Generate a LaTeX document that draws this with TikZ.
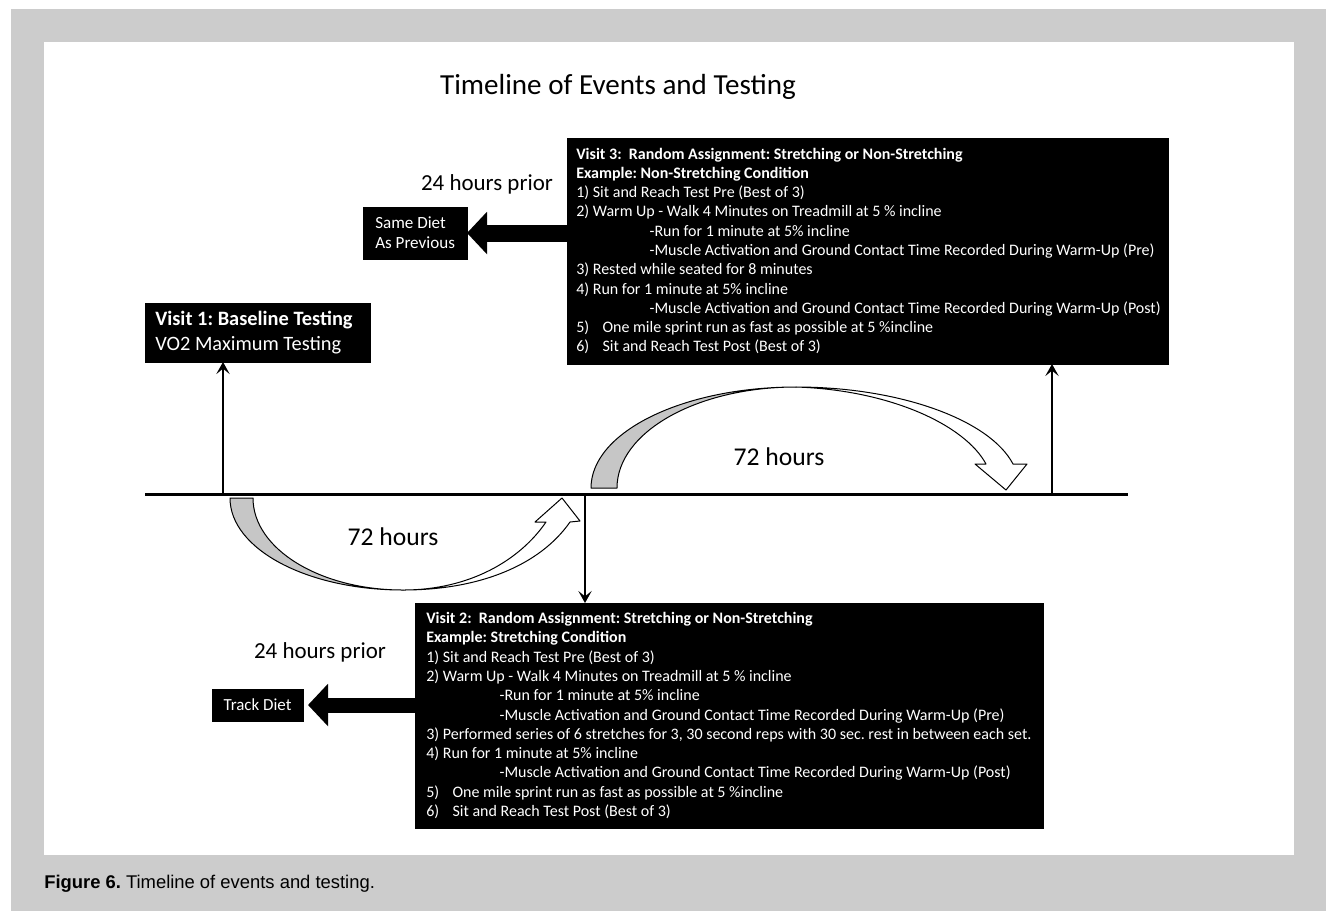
\documentclass[tikz,border=0pt]{standalone}
\usepackage{fontspec}
\setmainfont{Carlito}
\newfontfamily\capfont{Liberation Sans}
\usetikzlibrary{arrows.meta,calc}
\definecolor{bggray}{HTML}{CCCCCC}
\definecolor{arrowgray}{HTML}{C6C6C6}
\frenchspacing
\begin{document}
\begin{tikzpicture}[x=0.75pt,y=-0.75pt,
  blackbox/.style={fill=black, draw=black, inner sep=0pt, outer sep=0pt, text=white},
  boxtext/.style={text=white, inner sep=0pt, align=left, anchor=west, font=\fontsize{12}{14.45}\selectfont},
  thinarrow/.style={line width=1.5pt, -{Stealth[length=9pt,width=10pt,inset=4pt]}},
  fatarrow/.style={-{Triangle[length=15pt,width=31pt]}},
  curvearrow/.style={draw=black, line width=0.75pt, line join=round},
  lbl/.style={inner sep=0pt}
]
\useasboundingbox (0,0) rectangle (1326,911);
% background
\fill[white] (0,0) rectangle (1326,911);
\fill[bggray] (11,9) rectangle (1326,911);
\fill[white] (44,42) rectangle (1294,855);

% title
\node[lbl, font=\fontsize{21.8}{26}\selectfont] (title) at (618,87) {Timeline of Events and Testing};

% timeline
\coordinate (tl) at (145,494);
\coordinate (tr) at (1128,494);
\draw[line width=2.25pt] (tl) -- (tr);
\coordinate (t1) at (223,494);
\coordinate (t2) at (585,494);
\coordinate (t3) at (1052,494);

% boxes
\node[blackbox, minimum width=168.75pt, minimum height=44.25pt] (v1) at (257.5,332.5) {};
\node[boxtext, font=\fontsize{15.3}{18.75}\selectfont] (v1t) at ($(v1.west)+(10,0)$) {\textbf{Visit 1: Baseline Testing}\\VO2 Maximum Testing};

\node[blackbox, minimum width=450.75pt, minimum height=169.5pt] (v3) at (867.5,251) {};
\node[boxtext] (v3t) at ($(v3.west)+(9,0)$) {%
\textbf{Visit 3:\ \ Random Assignment: Stretching or Non-Stretching}\\
\textbf{Example: Non-Stretching Condition}\\
1) Sit and Reach Test Pre (Best of 3)\\
2) Warm Up - Walk 4 Minutes on Treadmill at 5 \% incline\\
\hspace*{55pt}-Run for 1 minute at 5\% incline\\
\hspace*{55pt}-Muscle Activation and Ground Contact Time Recorded During Warm-Up (Pre)\\
3) Rested while seated for 8 minutes\\
4) Run for 1 minute at 5\% incline\\
\hspace*{55pt}-Muscle Activation and Ground Contact Time Recorded During Warm-Up (Post)\\
5)\hspace{10pt}One mile sprint run as fast as possible at 5 \%incline\\
6)\hspace{10pt}Sit and Reach Test Post (Best of 3)};

\node[blackbox, minimum width=471pt, minimum height=168.75pt] (v2) at (729,715.5) {};
\node[boxtext] (v2t) at ($(v2.west)+(11,0)$) {%
\textbf{Visit 2:\ \ Random Assignment: Stretching or Non-Stretching}\\
\textbf{Example: Stretching Condition}\\
1) Sit and Reach Test Pre (Best of 3)\\
2) Warm Up - Walk 4 Minutes on Treadmill at 5 \% incline\\
\hspace*{55pt}-Run for 1 minute at 5\% incline\\
\hspace*{55pt}-Muscle Activation and Ground Contact Time Recorded During Warm-Up (Pre)\\
3) Performed series of 6 stretches for 3, 30 second reps with 30 sec. rest in between each set.\\
4) Run for 1 minute at 5\% incline\\
\hspace*{55pt}-Muscle Activation and Ground Contact Time Recorded During Warm-Up (Post)\\
5)\hspace{10pt}One mile sprint run as fast as possible at 5 \%incline\\
6)\hspace{10pt}Sit and Reach Test Post (Best of 3)};

\node[blackbox, minimum width=78pt, minimum height=39pt] (same) at (415,233) {};
\node[boxtext, font=\fontsize{12.8}{15}\selectfont] (samet) at ($(same.west)+(12,0)$) {Same Diet\\As Previous};

\node[blackbox, minimum width=68.25pt, minimum height=24pt, font=\fontsize{12.7}{15}\selectfont] (track) at (257.5,705) {Track Diet};

% labels
\node[lbl, font=\fontsize{17.2}{20}\selectfont] (prior3) at (487,184) {24 hours prior};
\node[lbl, font=\fontsize{17.2}{20}\selectfont] (prior2) at (320,652) {24 hours prior};
\node[lbl, font=\fontsize{19.2}{22}\selectfont] (h72a) at (393,537) {72 hours};
\node[lbl, font=\fontsize{19.2}{22}\selectfont] (h72b) at (779,457) {72 hours};

% fat arrows
\draw[fatarrow, line width=12.75pt] (v3.west |- same.east) -- (same.east);
\draw[fatarrow, line width=11.25pt] (v2.west |- track.east) -- ($(track.east)+(5,0)$);

% thin arrows
\draw[thinarrow] (t1) -- (t1 |- v1.south);
\draw[thinarrow] (t3) -- (t3 |- v3.south);
\draw[thinarrow] (t2) -- (t2 |- v2.north);

% bottom curved arrow
\filldraw[curvearrow, fill=arrowgray] (230,498) .. controls (230,549) and (307,590) .. (403,590)
   .. controls (320,590) and (253,549) .. (253,498) -- cycle;
\filldraw[curvearrow, fill=white] (403,590) .. controls (480,590) and (540,565) .. (570,522)
   -- (580,521) -- (562,498) -- (535,522) -- (546,522)
   .. controls (520,560) and (470,590) .. (403,590) -- cycle;

% top curved arrow
\filldraw[curvearrow, fill=arrowgray] (591,488) .. controls (591,432) and (683,387) .. (796,387)
   .. controls (697,387) and (617,432) .. (617,488) -- cycle;
\filldraw[curvearrow, fill=white] (796,387) .. controls (900,387) and (990,420) .. (1013,464)
   -- (1027,464) -- (1006,490) -- (975,464) -- (986,464)
   .. controls (965,425) and (890,390) .. (796,387) -- cycle;

% caption
\node[anchor=west, inner sep=0pt, font={\capfont\fontsize{13.8}{16}\selectfont}] (cap) at (44,884) {\textbf{Figure 6.} Timeline of events and testing.};
\end{tikzpicture}
\end{document}
